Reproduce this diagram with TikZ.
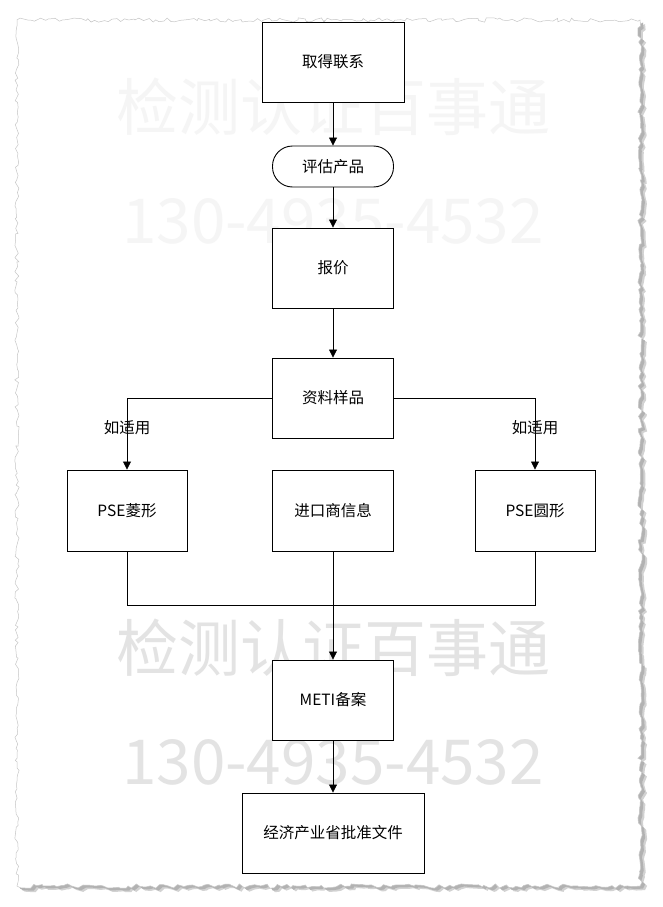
\documentclass[tikz,border=0pt]{standalone}
\usepackage{fontspec}
\newfontfamily\cjk{Noto Sans CJK SC}
\usetikzlibrary{arrows.meta,calc,positioning,decorations.pathmorphing}

\tikzset{
  box/.style={draw,fill=white,line width=0.9pt,minimum width=121pt,
    minimum height=80pt,inner sep=0pt,font=\cjk\fontsize{15.5}{18}\selectfont},
  pill/.style={box,rounded corners=20pt,minimum height=41pt},
  note/.style={inner sep=0pt,font=\cjk\fontsize{15.5}{18}\selectfont},
  watermark/.style={inner sep=0pt,font=\cjk\fontsize{62}{70}\selectfont},
  torn/.style={decorate,decoration={random steps,segment length=4pt,amplitude=2.2pt}},
}

\begin{document}
\begin{tikzpicture}[x=1pt,y=-1pt,>={Triangle[length=8pt,width=8pt]},line width=0.8pt]
  \useasboundingbox (0,0) rectangle (662,907);
  % 纸张（撕边+阴影）
  \pgfmathsetseed{11}
  \fill[gray!35,torn,xshift=5pt,yshift=-4pt] (17,20) rectangle (640,886);
  \pgfmathsetseed{11}
  \fill[gray!60,torn,xshift=3pt,yshift=-2.5pt] (17,20) rectangle (640,886);
  \pgfmathsetseed{11}
  \filldraw[fill=white,draw=gray!45,line width=0.5pt,torn] (17,20) rectangle (640,886);
  % 水印
  \node[watermark,text=gray!8] (shuiyinA) at (333,107) {检测认证百事通};
  \node[watermark,text=gray!8] (haomaA) at (333,221) {130-4935-4532};
  \node[watermark,text=gray!22] (shuiyinB) at (333,648) {检测认证百事通};
  \node[watermark,text=gray!22] (haomaB) at (333,762) {130-4935-4532};
  % 流程节点
  \node[box,minimum width=142pt] (lianxi) at (333,62) {取得联系};
  \node[pill] (pinggu) at (333,166.5) {评估产品};
  \node[box] (baojia) at (333,268) {报价};
  \node[box] (ziliao) at (333,398) {资料样品};
  \node[box,minimum width=120pt,minimum height=81pt] (lingxing) at (127,510.5) {PSE菱形};
  \node[box,minimum height=81pt] (jinkou) at (333,510.5) {进口商信息};
  \node[box,minimum width=120pt,minimum height=81pt] (yuanxing) at (535,510.5) {PSE圆形};
  \node[box] (meti) at (333,700) {METI备案};
  \node[box,minimum width=182pt] (pizhun) at (333,833) {经济产业省批准文件};
  % 条件标注
  \node[note] (shiyongL) at (127,428) {如适用};
  \node[note] (shiyongR) at (535,428) {如适用};
  % 连线
  \draw[->] (lianxi) -- (pinggu);
  \draw[->] (pinggu) -- (baojia);
  \draw[->] (baojia) -- (ziliao);
  \draw[->] (ziliao.west) -| (lingxing);
  \draw[->] (ziliao.east) -| (yuanxing);
  \coordinate (huiheL) at (127,605);
  \draw (lingxing) -- (huiheL) -| (yuanxing);
  \draw[->] (jinkou) -- (meti);
  \draw[->] (meti) -- (pizhun);
\end{tikzpicture}
\end{document}
